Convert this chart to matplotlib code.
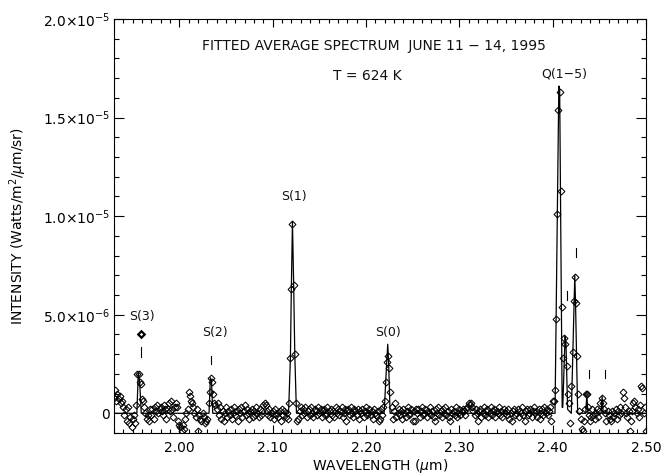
import numpy as np
import matplotlib
matplotlib.use("Agg")
import matplotlib.pyplot as plt
from matplotlib.ticker import MultipleLocator

plt.rcParams["font.family"] = "DejaVu Sans"
plt.rcParams["mathtext.fontset"] = "dejavusans"

# wavelength grid of the averaged spectrum (microns)
WAVE_START = 1.930
WAVE_STEP = 0.00125

# averaged intensity on that grid, in units of 1e-7 W/m^2/um/sr
intensity = [
    8, 12, 6, 10, 7, 9, 5, 6, 3, -1, 2, -4, 3, -5, -2, -7, -3, -1, -5, 4,
    20, 20, 16, 15, 7, 6, 3, 0, -3, -1, -4, 2, -1, 2, -3, 3, 1, 4, 0, 2,
    3, 1, -1, 4, 2, -3, 2, 5, 1, 6, 2, -2, 3, 5, 3, -4, -6, -7, -9, -6,
    -8, -3, 0, 2, 11, 9, 6, 5, 3, 0, -2, 2, -9, -1, -3, -4, 0, -2, -5, -4,
    -3, 5, 11, 18, 16, 10, 5, 4, 2, 5, -1, 3, -3, 1, -4, 0, 3, -2, 1, -1,
    2, -3, 0, 3, -1, 1, -4, 2, 0, 3, -2, 1, 4, -1, 2, 0, -3, 1, 2, -2,
    1, -1, 3, 0, -2, 2, -1, 1, 4, 5, 4, 1, -1, 2, -2, 0, 1, -3, 2, -1,
    0, -2, 1, -4, 2, -1, 1, -2, 0, -3, 5, 28, 63, 96, 65, 30, 5, -4, -3, 1,
    3, -1, 2, 0, 3, -2, 1, 2, -1, 3, 0, -2, 2, 1, -1, 3, 0, 2, -2, 1,
    2, -1, 0, 3, -3, 1, 2, -1, 1, -2, 3, 0, 2, -1, 1, 3, -2, 0, 2, -4,
    1, 2, -1, 3, 0, -2, 2, 1, -1, 2, -3, 1, 0, 2, -2, 1, 3, -1, 0, 2,
    -1, 1, -3, 2, 0, -1, 1, -4, -3, 2, -1, 3, 6, 16, 26, 29, 23, 11, 3, -3,
    1, 5, -2, 0, 2, -1, 1, -3, 2, 0, -2, 1, 3, -1, 0, 2, -4, 1, -4, 2,
    0, 2, -2, 1, 3, -1, 0, 2, -2, 1, 0, 3, -1, 1, -2, -4, 2, 0, 3, -1,
    1, -2, 2, 0, 3, -1, 1, -2, -4, 2, 0, 1, -1, 3, -2, 0, 2, -1, 1, 2,
    1, -1, 2, 3, 5, 4, 5, 3, 1, -1, 2, 0, -4, 1, 2, -2, 0, 3, -1, 1,
    2, -2, 0, 3, -1, 1, 2, -2, 1, 0, 3, -1, 1, -2, 2, 0, 1, -1, 2, -3,
    0, -4, 1, 2, -1, 0, 2, -2, 1, 0, 3, -1, -4, 1, 2, -1, 0, 2, -2, 1,
    3, 0, 1, -2, 2, -3, 0, 2, -1, 3, 0, 2, -1, 1, 3, -4, 6, 6, 12, 48,
    101, 154, 163, 113, 54, 28, 38, 35, 24, 10, 5, -5, 14, 31, 57, 69, 56, 29, 10, 1,
    -3, -8, -9, -4, 2, 10, 3, -1, -4, -2, 2, -1, -3, 0, 2, -2, 1, 5, 8, 5,
    2, 0, -4, 1, -1, -3, -4, 1, -2, 0, 2, -3, 1, -1, 3, 0, 11, 8, 3, 0,
    -2, 1, -9, -4, 1, 5, 6, 3, 0, 2, -2, 4, 14, 13, 0, 3, -9,
]

# fitted line profile (microns, 1e-6 W/m^2/um/sr)
fit_wave = [1.930,
            1.9545, 1.9560, 1.9575, 1.9592,
            2.0318, 2.0333, 2.0345, 2.0358,
            2.1170, 2.1190, 2.1200, 2.1212, 2.1225, 2.1237, 2.1255,
            2.2194, 2.2222, 2.2233, 2.2243, 2.2258,
            2.4025, 2.4066, 2.4075, 2.4102,
            2.4108, 2.4133, 2.4143, 2.4160,
            2.4200, 2.4237, 2.4245, 2.4268,
            2.4355, 2.4366, 2.4377,
            2.4518, 2.4530, 2.4542,
            2.500]
fit_value = [0,
             0, 2.05, 1.6, 0,
             0, 1.8, 1.65, 0,
             0, 2.8, 6.3, 9.7, 6.5, 3.0, 0,
             0, 2.6, 3.5, 2.5, 0,
             0, 16.6, 16.4, 0.3,
             0.3, 3.9, 3.5, 0.2,
             0, 7.0, 5.6, 0,
             0, 1.0, 0,
             0, 0.85, 0,
             0]

# extra points: S(3) estimate (open, heavy) and Q(4) point (filled)
s3_wave, s3_value = [1.9585], [4.0]
q4_wave, q4_value = [2.4363], [1.0]

# line identifications: label, label position, tick mark position / extent
line_labels = ["S(3)", "S(2)", "S(1)", "S(0)", "Q(1\u22125)"]
label_wave = [1.9597, 2.0383, 2.1232, 2.2235, 2.4123]
label_value = [4.9, 4.1, 11.0, 4.1, 17.2]
mark_wave = [1.9593, 2.0337, 2.4152, 2.4252, 2.4391, 2.4563]
mark_low = [2.88, 2.51, 5.74, 7.95, 1.78, 1.78]
mark_high = [3.38, 2.93, 6.21, 8.40, 2.21, 2.21]

wave = WAVE_START + WAVE_STEP * np.arange(len(intensity))
flux = np.array(intensity) * 1e-7

fig = plt.figure(figsize=(6.62, 4.74), dpi=100)
ax = fig.add_axes([114 / 662, 1 - 433 / 474, 532 / 662, 414 / 474])

ax.plot(np.array(fit_wave), np.array(fit_value) * 1e-6, color="black", lw=0.9, zorder=2)
ax.plot(wave, flux, linestyle="none", marker="D", ms=3.5, mfc="none",
        mec="black", mew=0.75, zorder=3)
ax.plot(s3_wave, np.array(s3_value) * 1e-6, linestyle="none", marker="D", ms=3.3,
        mfc="none", mec="black", mew=1.6, zorder=3)
ax.plot(q4_wave, np.array(q4_value) * 1e-6, linestyle="none", marker="D", ms=3.5,
        mfc="#333333", mec="black", mew=0.8, zorder=4)

for w, lo, hi in zip(mark_wave, mark_low, mark_high):
    ax.plot([w, w], [lo * 1e-6, hi * 1e-6], color="black", lw=0.8)

for txt, w, v in zip(line_labels, label_wave, label_value):
    ax.text(w, v * 1e-6, txt, ha="center", va="center", fontsize=9, color="#111111")

ax.text(2.2087, 18.64e-6, "FITTED AVERAGE SPECTRUM  JUNE 11 \u2212 14, 1995",
        ha="center", va="center", fontsize=10, color="#111111")
ax.text(2.2017, 17.12e-6, "T = 624 K", ha="center", va="center", fontsize=10,
        color="#111111")

# ----------------------------
# axes, ticks
# ----------------------------
ax.set_xlim(1.93, 2.50)
ax.set_ylim(-1.0e-6, 2.0e-5)

ax.set_xticks([2.0, 2.1, 2.2, 2.3, 2.4, 2.5])
ax.set_xticklabels(["2.00", "2.10", "2.20", "2.30", "2.40", "2.50"])
ax.xaxis.set_minor_locator(MultipleLocator(0.01))

ax.set_yticks([0, 5e-6, 1e-5, 1.5e-5, 2e-5])
ax.set_yticklabels(["0", "5.0\u00d710$^{-6}$", "1.0\u00d710$^{-5}$",
                    "1.5\u00d710$^{-5}$", "2.0\u00d710$^{-5}$"])
ax.yaxis.set_minor_locator(MultipleLocator(1e-6))

ax.tick_params(which="both", direction="in", top=True, right=True,
               width=0.8, labelsize=10)
ax.tick_params(axis="x", which="major", length=6, pad=6)
ax.tick_params(axis="x", which="minor", length=3)
ax.tick_params(axis="y", which="major", length=7, pad=3)
ax.tick_params(axis="y", which="minor", length=3.6)
for sp in ax.spines.values():
    sp.set_linewidth(0.8)

fig.text(380 / 662, 1 - 466 / 474, "WAVELENGTH ($\\mu$m)", ha="center",
         va="center", fontsize=10)
fig.text(18 / 662, 1 - 226 / 474, "INTENSITY (Watts/m$^2$/$\\mu$m/sr)",
         rotation=90, ha="center", va="center", fontsize=10)

fig.savefig("out.png", dpi=100)
